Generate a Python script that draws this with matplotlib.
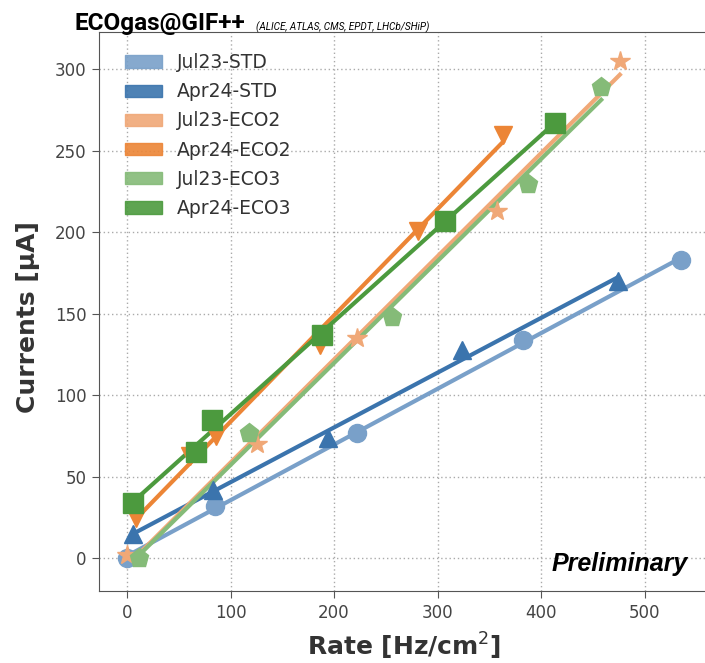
import numpy as np
import matplotlib
matplotlib.use("Agg")
import matplotlib.pyplot as plt
from matplotlib.patches import Patch

# rate [Hz/cm2] and currents [uA]
jul23_std_rate = [0, 85, 222, 382, 535]
jul23_std_curr = [0, 32, 77, 134, 183]

apr24_std_rate = [6, 83, 194, 324, 474]
apr24_std_curr = [15, 42, 74, 128, 170]

jul23_eco2_rate = [0, 126, 222, 357, 476]
jul23_eco2_curr = [2, 70, 135, 213, 305]

apr24_eco2_rate = [9, 61, 86, 186, 281, 363]
apr24_eco2_curr = [25, 63, 75, 131, 201, 260]

jul23_eco3_rate = [12, 118, 256, 387, 458]
jul23_eco3_curr = [0, 77, 148, 230, 289]

apr24_eco3_rate = [6, 67, 82, 188, 307, 413]
apr24_eco3_curr = [34, 65, 85, 137, 207, 267]

labels = ["Jul23-STD", "Apr24-STD", "Jul23-ECO2", "Apr24-ECO2", "Jul23-ECO3", "Apr24-ECO3"]
colors = ["#79a0c9", "#3b74ad", "#f0a877", "#ec8536", "#85bb78", "#4c9a3e"]
markers = ["o", "^", "*", "v", "p", "s"]
msizes = [13, 13, 15, 13, 14, 14]

series = [
    (jul23_std_rate, jul23_std_curr),
    (apr24_std_rate, apr24_std_curr),
    (jul23_eco2_rate, jul23_eco2_curr),
    (apr24_eco2_rate, apr24_eco2_curr),
    (jul23_eco3_rate, jul23_eco3_curr),
    (apr24_eco3_rate, apr24_eco3_curr),
]


def linear_fit(rate, curr):
    """straight line fit drawn over the measured rate range"""
    p = np.polyfit(rate, curr, 1)
    xs = np.array([min(rate), max(rate)])
    return xs, np.polyval(p, xs)


fig = plt.figure(figsize=(7.05, 6.63), dpi=100)
ax = fig.add_axes([99 / 705, 72 / 663, 613 / 705, 559 / 663])

for (rate, curr), c, m, ms in zip(series, colors, markers, msizes):
    xs, ys = linear_fit(rate, curr)
    ax.plot(xs, ys, color=c, lw=3, zorder=2)
    ax.plot(rate, curr, ls="none", marker=m, ms=ms, color=c, mec=c, zorder=3)

ax.set_xlim(-27, 565)
ax.set_ylim(-20, 323)
ax.set_xticks(np.arange(0, 501, 100))
ax.set_yticks(np.arange(0, 301, 50))
ax.grid(True, ls=(0, (1, 2)), color="#aaaaaa", lw=1.0)
ax.set_axisbelow(True)
ax.tick_params(labelsize=12, labelcolor="#444444", color="#555555", length=5, pad=4)
for side in ["left", "bottom", "top"]:
    ax.spines[side].set_color("#555555")
ax.spines["right"].set_visible(False)

ax.set_xlabel(r"Rate [Hz/cm$^2$]", fontsize=18, fontweight="bold", color="#333333")
ax.set_ylabel("Currents [μA]", fontsize=18, fontweight="bold", color="#333333")
ax.xaxis.set_label_coords(0.4976, -0.072)
ax.xaxis.label.set_va("top")
ax.yaxis.set_label_coords(-0.097, 0.49)

handles = [Patch(facecolor=c, edgecolor=c, alpha=0.9) for c in colors]
leg = ax.legend(handles, labels, loc="upper left", bbox_to_anchor=(0.0424, 0.962),
                frameon=False, fontsize=13.5, borderpad=0, borderaxespad=0,
                handlelength=2.0, handleheight=0.65, handletextpad=0.75, labelspacing=0.54)
for t in leg.get_texts():
    t.set_color("#333333")

# header: no condensed font available, so use the narrower Roboto
title = fig.text(75 / 705, 1 - 30 / 663, "ECOgas@GIF++", fontsize=17.5, fontweight="bold",
                 family=["Roboto", "DejaVu Sans"], va="baseline")
renderer = fig.canvas.get_renderer()
title_end = title.get_window_extent(renderer).x1
fig.text((title_end + 10) / 705, 1 - 30 / 663, "(ALICE, ATLAS, CMS, EPDT, LHCb/SHiP)",
         fontsize=7.2, style="italic", family=["Roboto", "DejaVu Sans"], va="baseline")
fig.text(688 / 705, 1 - 571 / 663, "Preliminary", fontsize=18, fontweight="bold",
         style="italic", family=["Liberation Sans", "DejaVu Sans"], ha="right", va="baseline")

fig.savefig("out.png", dpi=100)
